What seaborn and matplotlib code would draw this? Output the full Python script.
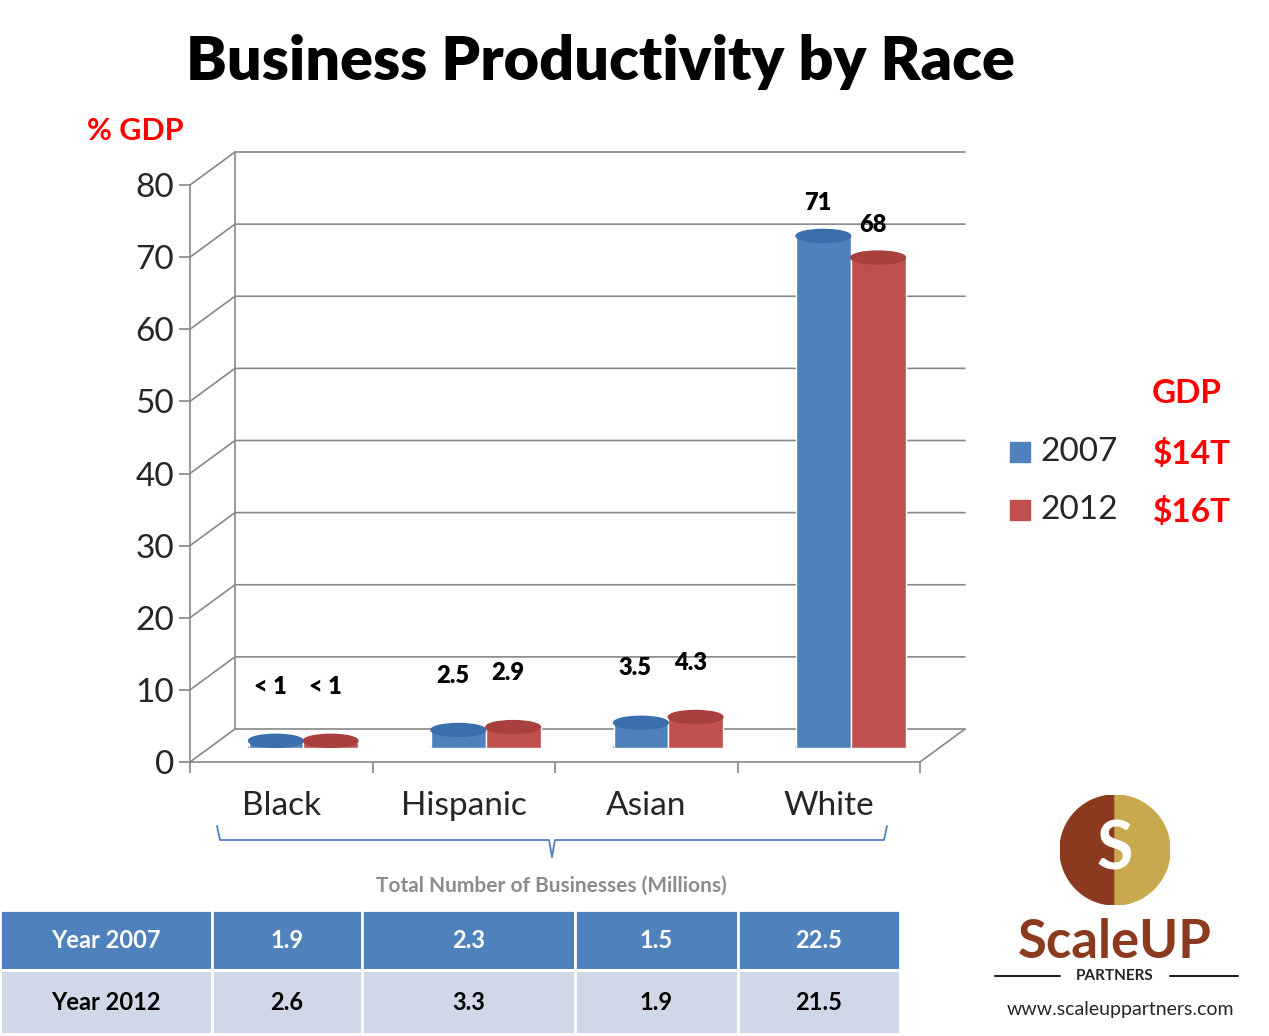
import matplotlib
matplotlib.use("Agg")
import matplotlib.pyplot as plt
import seaborn as sns
import pandas as pd
from matplotlib.lines import Line2D
from matplotlib.patches import Rectangle, Ellipse, Wedge

sns.set_theme(style="white")
plt.rcParams['font.family'] = ['Lato', 'DejaVu Sans']

races = ["Black", "Hispanic", "Asian", "White"]
gdp_2007 = [1.0, 2.5, 3.5, 71]
gdp_2012 = [1.0, 2.9, 4.3, 68]
labels_2007 = ["< 1", "2.5", "3.5", "71"]
labels_2012 = ["< 1", "2.9", "4.3", "68"]
biz_2007 = ["1.9", "2.3", "1.5", "22.5"]
biz_2012 = ["2.6", "3.3", "1.9", "21.5"]
blue, red = "#4F81BD", "#C0504D"

W, H = 1269, 1036
fig = plt.figure(figsize=(W / 100, H / 100), dpi=100)

def fx(px): return px / W
def fy(py): return 1 - py / H

# axes placement (pixels): x 190..920, y 762 (0) .. 185 (80)
ax = fig.add_axes([fx(190), fy(762), fx(920) - fx(190), fy(185) - fy(762)])
ax.patch.set_alpha(0)
# bars sit in the middle of the 3D depth
bax = fig.add_axes([fx(212), fy(748), fx(920) - fx(190), fy(185) - fy(762)])
bax.patch.set_alpha(0)
bax.axis("off")

df = pd.DataFrame({
    "race": races * 2,
    "year": ["2007"] * 4 + ["2012"] * 4,
    "gdp": gdp_2007 + gdp_2012,
})

# perspective grid (back wall)
dy = 33
for v in range(0, 90, 10):
    py = 762 - v * 577 / 80
    fig.add_artist(Line2D([fx(190), fx(235), fx(965)], [fy(py), fy(py - dy), fy(py - dy)],
                          color="#888888", lw=1.2, zorder=0))
fig.add_artist(Line2D([fx(235), fx(235)], [fy(762 - dy), fy(185 - dy)], color="#888888", lw=1.2))
fig.add_artist(Line2D([fx(920), fx(965)], [fy(762), fy(762 - dy)], color="#888888", lw=1.2))

sns.barplot(data=df, x="race", y="gdp", hue="year", palette=[blue, red],
            width=0.6, ax=bax, legend=False, saturation=1, zorder=3)
bax.set_ylim(0, 80)
bax.set_xlim(-0.5, 3.5)

# cylinder caps and value labels
for i, cont in enumerate(bax.containers):
    cap = "#3A6EAD" if i == 0 else "#A8403D"
    labs = labels_2007 if i == 0 else labels_2012
    for bar, lab in zip(cont, labs):
        bx = bar.get_x() + bar.get_width() / 2
        h = bar.get_height()
        bax.add_patch(Ellipse((bx, h), bar.get_width(), 1.8, color=cap, zorder=4))
        bax.add_patch(Ellipse((bx, 0), bar.get_width(), 1.8, color=bar.get_facecolor(), zorder=2))
        off = 6 if h < 10 else 3
        bax.text(bx - 0.03, h + off, lab, ha="center", va="bottom", fontsize=17,
                 fontweight="heavy", color="black", zorder=5)

ax.set_ylim(0, 80)
ax.set_xlim(-0.5, 3.5)
ax.set_yticks(range(0, 90, 10))
ax.set_yticklabels([str(v) for v in range(0, 90, 10)], fontsize=24)
ax.set_xticks([-0.5, 0.5, 1.5, 2.5, 3.5])
ax.set_xticklabels([])
for k, r in enumerate(races):
    ax.text(k, -4, r, ha="center", va="top", fontsize=24)
ax.tick_params(axis="both", direction="out", length=8, color="#888888", width=1.2,
               bottom=True, left=True)
for s in ["top", "right"]:
    ax.spines[s].set_visible(False)
for s in ["left", "bottom"]:
    ax.spines[s].set_color("#888888")
    ax.spines[s].set_linewidth(1.2)

# title and axis caption
fig.text(fx(600), fy(62), "Business Productivity by Race", ha="center", va="center",
         fontsize=44, fontweight="heavy", color="black")
fig.text(fx(135), fy(131), "% GDP", ha="center", va="center", fontsize=22,
         fontweight="bold", color="red")

# legend
fig.text(fx(1187), fy(393), "GDP", ha="center", va="center", fontsize=24, fontweight="bold", color="red")
for py, col, yr, val in [(452, blue, "2007", "$14T"), (510, red, "2012", "$16T")]:
    fig.add_artist(Rectangle((fx(1010), fy(py + 10)), fx(20), fy(0) - fy(20), color=col))
    fig.text(fx(1040), fy(py), yr, ha="left", va="center", fontsize=24)
    fig.text(fx(1153), fy(py + 2), val, ha="left", va="center", fontsize=24,
             fontweight="bold", color="red")

# bracket under categories
bc = "#4F81BD"
fig.add_artist(Line2D([fx(217), fx(220), fx(549), fx(552), fx(555), fx(884), fx(887)],
                      [fy(826), fy(840), fy(840), fy(857), fy(840), fy(840), fy(826)],
                      color=bc, lw=1.3))
fig.text(fx(551), fy(886), "Total Number of Businesses (Millions)", ha="center", va="center",
         fontsize=15, fontweight="bold", color="#8C8C8C")

# table
cols = [0, 212, 362, 575, 738, 900]
rows = [(910, 970, blue, "white", "Year 2007", biz_2007),
        (970, 1034, "#D0D8E8", "black", "Year 2012", biz_2012)]
for y0, y1, bg, tc, head, vals in rows:
    cells = [head] + vals
    for c in range(5):
        fig.add_artist(Rectangle((fx(cols[c]), fy(y1)), fx(cols[c + 1] - cols[c]), fy(0) - fy(y1 - y0),
                                 facecolor=bg, edgecolor="white", lw=2))
        fig.text(fx((cols[c] + cols[c + 1]) / 2), fy((y0 + y1) / 2), cells[c], ha="center",
                 va="center", fontsize=17, fontweight="bold", color=tc)

# logo
lax = fig.add_axes([fx(1060), fy(905), fx(110), fy(0) - fy(110)])
lax.set_xlim(-1, 1); lax.set_ylim(-1, 1); lax.axis("off"); lax.set_aspect("equal")
lax.add_patch(Wedge((0, 0), 1, 90, 270, color="#8B3A1F"))
lax.add_patch(Wedge((0, 0), 1, 270, 90, color="#C9A94D"))
lax.text(0, 0, "S", ha="center", va="center", fontsize=48, fontweight="bold", color="white")
fig.text(fx(1115), fy(943), "ScaleUP", ha="center", va="center", fontsize=38,
         fontweight="bold", color="#8B3A1F")
fig.text(fx(1115), fy(976), "PARTNERS", ha="center", va="center", fontsize=11,
         fontweight="bold", color="#222222")
fig.add_artist(Line2D([fx(995), fx(1060)], [fy(976), fy(976)], color="#222222", lw=1.5))
fig.add_artist(Line2D([fx(1170), fx(1238)], [fy(976), fy(976)], color="#222222", lw=1.5))
fig.text(fx(1120), fy(1009), "www.scaleuppartners.com", ha="center", va="center", fontsize=14)

fig.savefig("out.png", dpi=100, facecolor="white")
